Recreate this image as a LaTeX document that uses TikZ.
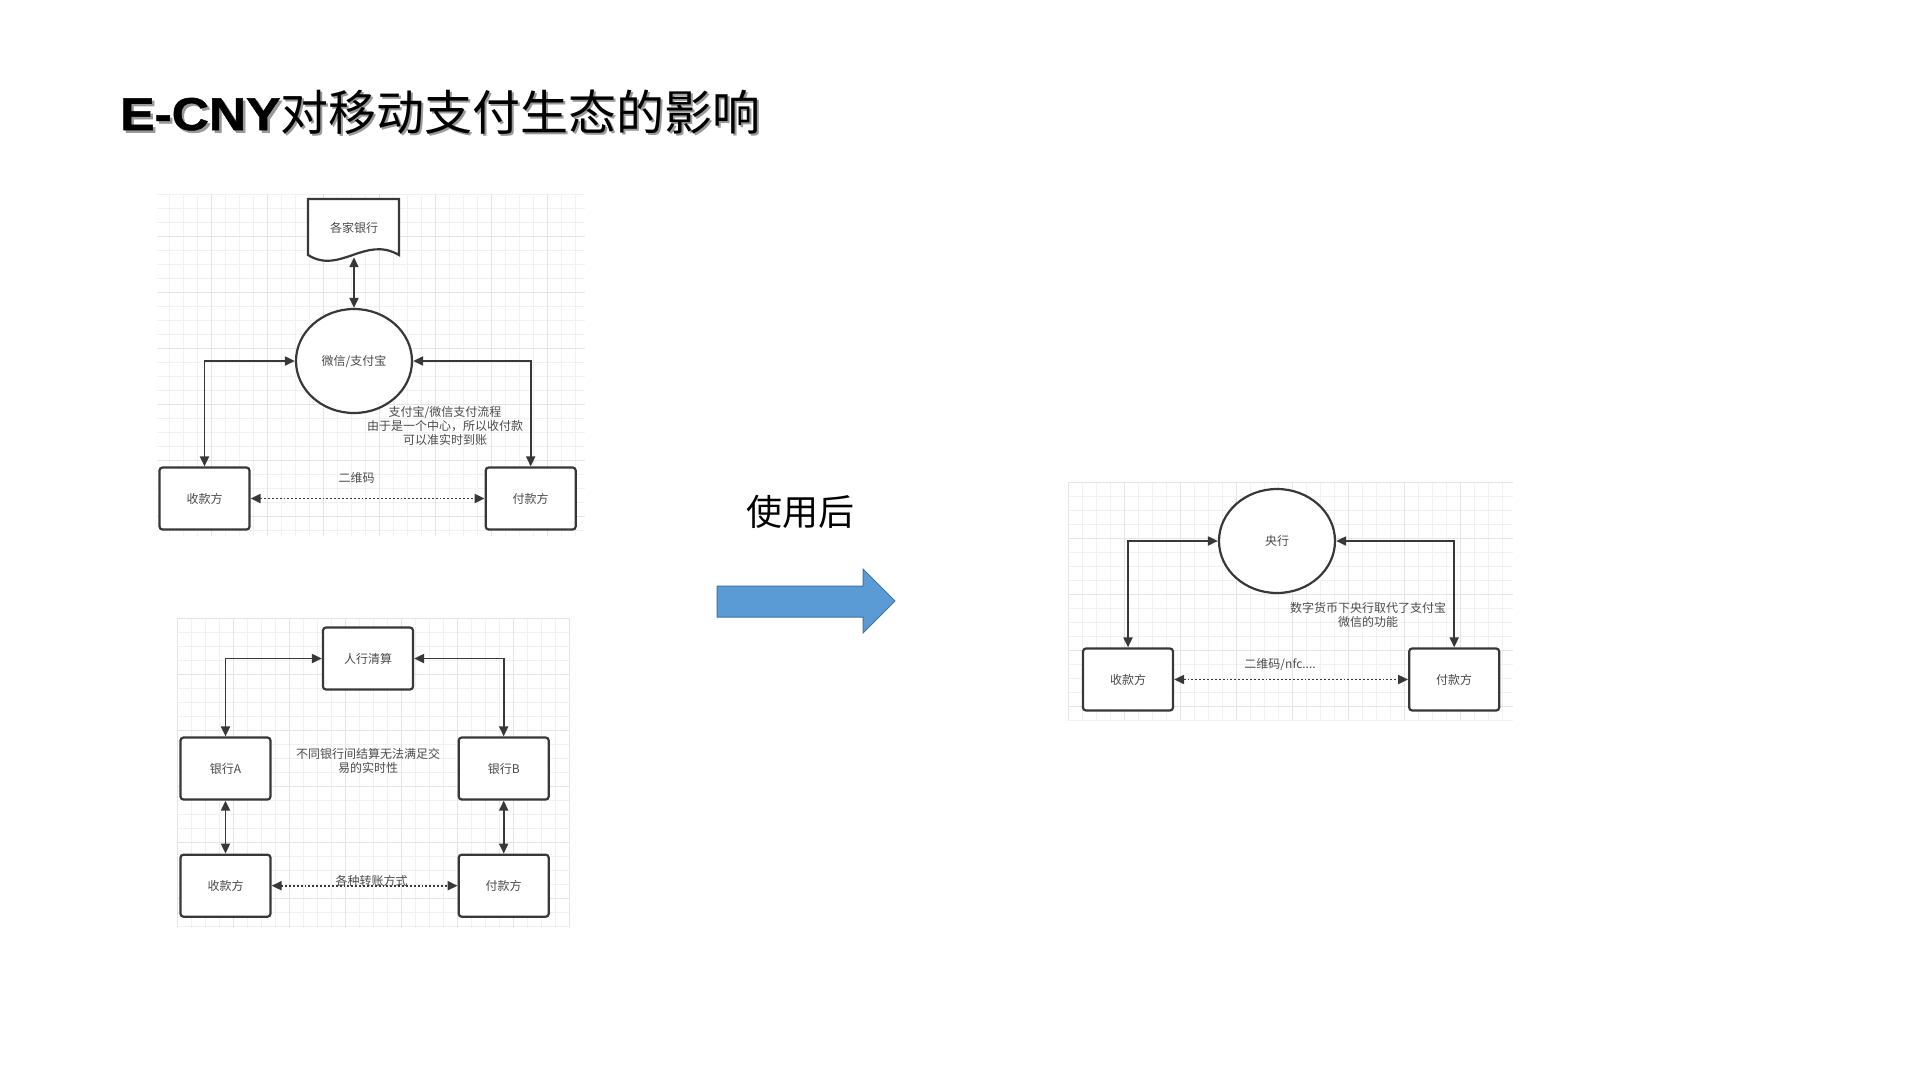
\documentclass[tikz,border=0pt]{standalone}
\usepackage{fontspec}
\setmainfont{Noto Sans CJK SC}
\newfontfamily\titlelatin[FakeStretch=1.12,BoldFeatures={FakeBold=1.2}]{Liberation Sans}
\usetikzlibrary{positioning, shapes.geometric, arrows.meta}

\definecolor{inkgray}{HTML}{383838}
\definecolor{textgray}{HTML}{4A4A4A}
\definecolor{gridminor}{HTML}{F1F1F1}
\definecolor{gridmajor}{HTML}{E4E4E4}
\definecolor{arrowfill}{HTML}{5B9BD5}
\definecolor{arrowedge}{HTML}{41719C}

\newcommand{\shadowed}[1]{\makebox[0pt][l]{\hspace{2.5pt}\raisebox{-2.5pt}{\color{black!40}#1}}#1}

\begin{document}
\begin{tikzpicture}[x=1pt, y=-1pt,
     node distance = 53pt and 186pt,
        box/.style = {rectangle, draw=inkgray, fill=white, line width=2.2pt, rounded corners=3pt,
                      minimum width=90pt, minimum height=62pt, text=textgray, font=\fontsize{12}{14}\selectfont},
       oval/.style = {ellipse, draw=inkgray, fill=white, line width=2.2pt,
                      minimum width=116pt, minimum height=104pt, text=textgray, font=\fontsize{12}{14}\selectfont},
       note/.style = {align=center, text=textgray, inner sep=0pt, font=\fontsize{12}{14}\selectfont},
       flow/.style = {draw=inkgray, line width=1.9pt,
                      {Triangle[length=10pt,width=9pt]}-{Triangle[length=10pt,width=9pt]}},
      dflow/.style = {flow, dotted},
   gridfine/.style = {draw=gridminor, line width=0.8pt, step=14pt},
   gridbold/.style = {draw=gridmajor, line width=0.9pt, step=56pt},
   bigarrow/.style = {fill=arrowfill, draw=arrowedge, line width=1pt}
                        ]
\useasboundingbox (0,0) rectangle (1920,1080);

% title
\node (title) [anchor=base west, inner sep=0pt] at (120,130)
   {\shadowed{{\titlelatin\bfseries\fontsize{46}{48}\selectfont E-CNY}{\fontsize{48}{52}\selectfont 对移动支付生态的影响}}};

% grid backgrounds
\begin{scope}[shift={(155,180)}]
\draw[gridfine] (2,14) grid (430,356);
\draw[gridbold] (2,14) grid (430,356);
\end{scope}
\begin{scope}[shift={(177,618)}]
\draw[gridfine] (0,0) grid (393,310);
\draw[gridbold] (0,0) grid (393,310);
\end{scope}
\begin{scope}[shift={(1068,482)}]
\draw[gridfine] (0,0) grid (445,238);
\draw[gridbold] (0,0) grid (445,238);
\end{scope}

% before: wechat / alipay
\draw[draw=inkgray, fill=white, line width=2.2pt] (308,199) -- (399,199) -- (399,255)
   .. controls (365,235) and (340,275) .. (308,255) -- cycle;
\node (bank) [minimum width=91pt, minimum height=58pt, text=textgray, font=\fontsize{12}{14}\selectfont] at (354,228) {各家银行};
\node (wechat) [oval] at (354,361) {微信/支付宝};
\node (payee) [box] at (204.5,498.5) {收款方};
\node (payer) [box, right=234pt of payee] {付款方};
\draw[flow] (bank) -- (wechat);
\draw[flow] (wechat.west) -| (payee.north);
\draw[flow] (wechat.east) -| (payer.north);
\draw[dflow] (payee) -- node (qr) [note, above=14pt, xshift=-11pt] {二维码} (payer);
\node (note1) [note] at (445,426) {支付宝/微信支付流程\\由于是一个中心，所以收付款\\可以准实时到账};

% before: bank transfer
\node (pbc) [box] at (368,658.5) {人行清算};
\node (bankA) [box] at (225.5,768.5) {银行A};
\node (bankB) [box, right=of bankA] {银行B};
\node (payee2) [box, below=of bankA] {收款方};
\node (payer2) [box, below=of bankB] {付款方};
\draw[flow] (pbc.west) -| (bankA.north);
\draw[flow] (pbc.east) -| (bankB.north);
\draw[flow] (bankA) -- (payee2);
\draw[flow] (bankB) -- (payer2);
\draw[dflow] (payee2) -- node (xfer) [note, yshift=5pt, xshift=7pt] {各种转账方式} (payer2);
\node (note2) [note] at (368,761) {不同银行间结算无法满足交\\易的实时性};

% arrow in the middle
\node (after) [inner sep=0pt, font=\fontsize{36}{40}\selectfont] at (800,512) {使用后};
\draw[bigarrow] (717,586) -- (863,586) -- (863,569) -- (895,601) -- (863,633) -- (863,617) -- (717,617) -- cycle;

% after: e-cny
\node (cb) [oval] at (1277,541) {央行};
\node (payee3) [box] at (1128,679.5) {收款方};
\node (payer3) [box, right=234pt of payee3] {付款方};
\draw[flow] (cb.west) -| (payee3.north);
\draw[flow] (cb.east) -| (payer3.north);
\draw[dflow] (payee3) -- node (nfc) [note, above=8pt, xshift=-11pt] {二维码/nfc....} (payer3);
\node (note3) [note] at (1368,615) {数字货币下央行取代了支付宝\\微信的功能};
\end{tikzpicture}
\end{document}
